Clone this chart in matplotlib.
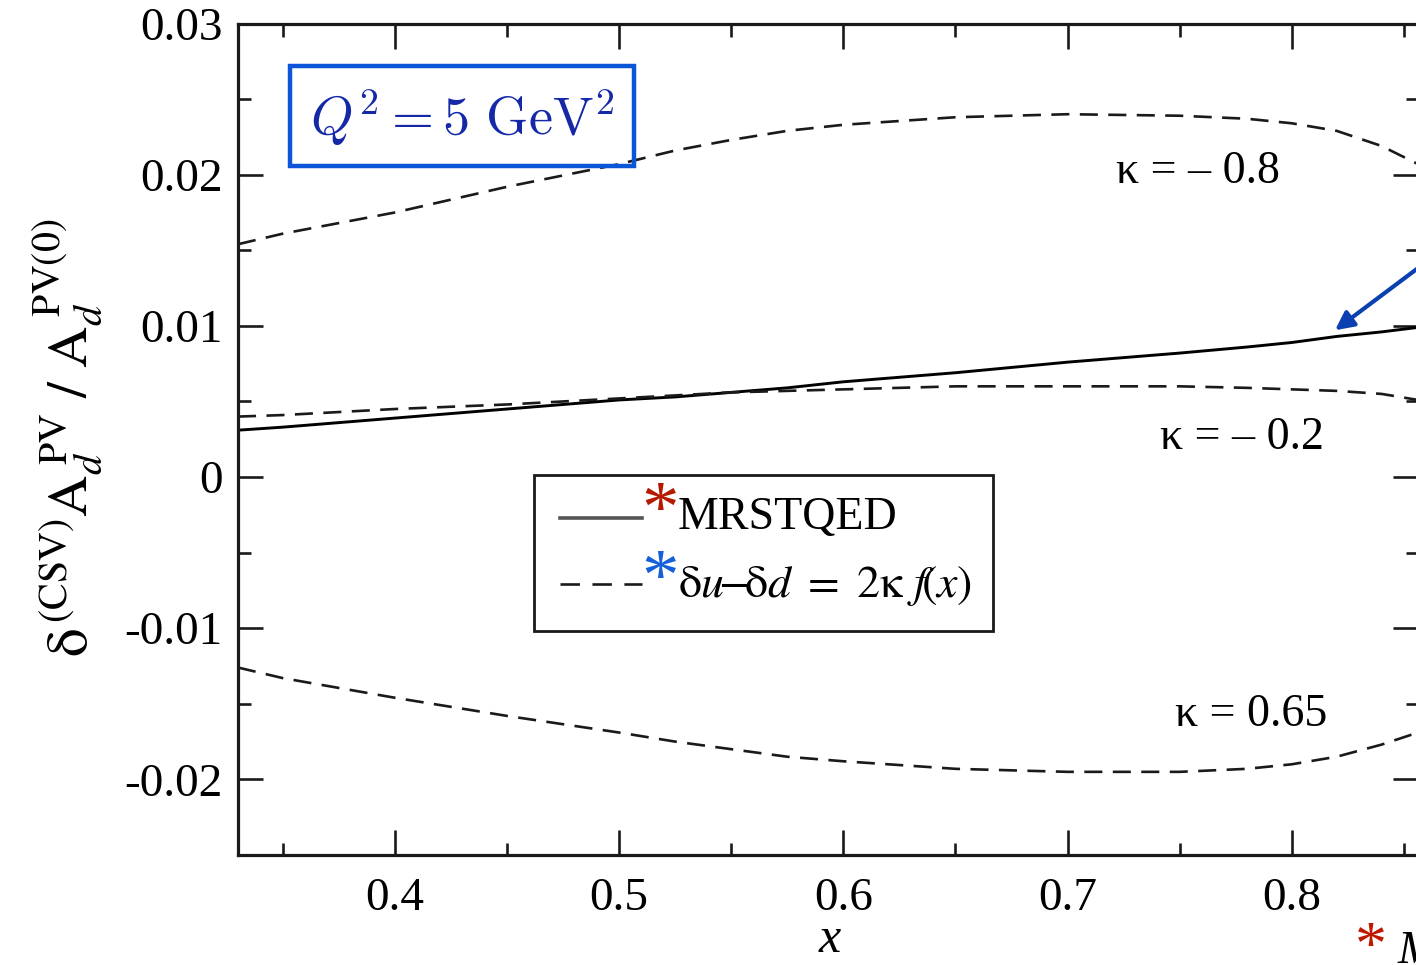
import matplotlib
matplotlib.use("Agg")
import matplotlib.pyplot as plt
from matplotlib.patches import Rectangle
from matplotlib.lines import Line2D

plt.rcParams['font.family'] = ['Liberation Serif', 'DejaVu Serif']
plt.rcParams['mathtext.fontset'] = 'stix'
plt.rcParams['axes.unicode_minus'] = False
plt.rcParams['lines.scale_dashes'] = False

# ---- data ----
x_vals = [0.33, 0.35, 0.40, 0.45, 0.50, 0.525, 0.55, 0.575, 0.60, 0.65, 0.70, 0.75, 0.78, 0.80, 0.82, 0.84, 0.8563]
mrstqed = [0.0031, 0.0033, 0.0039, 0.0045, 0.0051, 0.0053, 0.0056, 0.0059, 0.0063, 0.0069, 0.0076, 0.0082, 0.0086, 0.0089, 0.0093, 0.0096, 0.0099]
kappa_m08 = [0.0154, 0.0161, 0.0175, 0.0192, 0.0207, 0.0216, 0.0223, 0.0229, 0.0233, 0.0238, 0.0240, 0.0239, 0.0237, 0.0234, 0.0229, 0.0219, 0.0207]
kappa_m02 = [0.0040, 0.0041, 0.0045, 0.0048, 0.0052, 0.0054, 0.0056, 0.0057, 0.0058, 0.0060, 0.0060, 0.0060, 0.0059, 0.0058, 0.0057, 0.0055, 0.0051]
kappa_p065 = [-0.0126, -0.0133, -0.0146, -0.0158, -0.0169, -0.0175, -0.0180, -0.0185, -0.0188, -0.0193, -0.0195, -0.0195, -0.0193, -0.0190, -0.0185, -0.0177, -0.0169]

x_major = [0.4, 0.5, 0.6, 0.7, 0.8]
x_major_labels = ['0.4', '0.5', '0.6', '0.7', '0.8']
x_minor = [0.35, 0.45, 0.55, 0.65, 0.75, 0.85]
y_major = [0.03, 0.02, 0.01, 0.0, -0.01, -0.02]
y_major_labels = ['0.03', '0.02', '0.01', '0', '-0.01', '-0.02']
y_minor = [0.025, 0.015, 0.005, -0.005, -0.015, -0.025]

kappa_labels = ['\u03ba = \u2013 0.8', '\u03ba = \u2013 0.2', '\u03ba = 0.65']

W, H = 1416, 965
def fx(px):
    return px / W
def fy(py):
    return 1 - py / H

fig = plt.figure(figsize=(W / 100, H / 100), dpi=100)
ax = fig.add_axes([fx(238), fy(855), (1418 - 238) / W, (855 - 23.5) / H])
ax.set_xlim(0.33, 0.8563)
ax.set_ylim(-0.025, 0.03)

dash = (13, 7.5)
ax.plot(x_vals, mrstqed, color='black', lw=2.1, solid_capstyle='butt')
for series in (kappa_m08, kappa_m02, kappa_p065):
    ax.plot(x_vals, series, color='#1a1a1a', lw=1.9, dashes=dash)

ax.set_xticks(x_major)
ax.set_xticklabels(x_major_labels)
ax.set_xticks(x_minor, minor=True)
ax.set_yticks(y_major)
ax.set_yticklabels(y_major_labels)
ax.set_yticks(y_minor, minor=True)
ax.tick_params(which='both', direction='in', top=True, right=True, width=1.9, color='#1a1a1a')
ax.tick_params(which='major', length=18, labelsize=34, pad=11)
ax.tick_params(axis='x', which='major', pad=16)
ax.tick_params(which='minor', length=9)
for sp in ax.spines.values():
    sp.set_linewidth(2.3)
    sp.set_color('#1a1a1a')

# axis labels
fig.text(fx(830), fy(940), 'x', fontsize=36, style='italic', ha='center', va='center')
fig.text(fx(68), fy(438),
         r'$\mathrm{\delta}^{\,\mathrm{(CSV)}}\mathrm{A}_{d}^{\ \mathrm{PV}}\ /\ \mathrm{A}_{d}^{\ \mathrm{PV(0)}}$',
         fontsize=41, rotation=90, ha='center', va='center')

# kappa labels
fig.text(fx(1116), fy(172), kappa_labels[0], fontsize=33, ha='left', va='center')
fig.text(fx(1160), fy(438), kappa_labels[1], fontsize=33, ha='left', va='center')
fig.text(fx(1175), fy(715), kappa_labels[2], fontsize=33, ha='left', va='center')

# Q^2 box
fig.patches.append(Rectangle((fx(290), fy(166)), (634 - 290) / W, (166 - 66) / H,
                             transform=fig.transFigure, fill=False,
                             edgecolor='#0a55d8', lw=3.2, zorder=5))
fig.text(fx(462), fy(118), r'$Q^2 = 5\ \mathrm{GeV}^2$', fontsize=39,
         color='#1428a8', ha='center', va='center', math_fontfamily='cm')

# legend (manual)
fig.patches.append(Rectangle((fx(534), fy(631)), (993 - 534) / W, (631 - 475) / H,
                             transform=fig.transFigure, fill=True, facecolor='white',
                             edgecolor='#1a1a1a', lw=2.0, zorder=3))
fig.lines.append(Line2D([fx(560), fx(642)], [fy(518), fy(518)], transform=fig.transFigure,
                        color='#555555', lw=2.6, zorder=4))
fig.lines.append(Line2D([fx(560), fx(642)], [fy(584), fy(584)], transform=fig.transFigure,
                        color='#1a1a1a', lw=1.9, dashes=(14, 9), zorder=4))
fig.text(fx(660), fy(514), '*', fontsize=54, color='#b51a00', ha='center', va='center', zorder=6)
fig.text(fx(660), fy(582), '*', fontsize=54, color='#1560d8', ha='center', va='center', zorder=6)
fig.text(fx(678), fy(529), 'MRSTQED', fontsize=33, ha='left', va='baseline', zorder=6)
fig.text(fx(678), fy(597), r'$\mathrm{\delta}u\!\mathrm{-}\!\mathrm{\delta}d\ \mathrm{=}\ \mathrm{2\kappa}\ f\!\mathrm{(}x\mathrm{)}$',
         fontsize=33, ha='left', va='baseline', zorder=6)

# arrow
ax.annotate('', xy=(0.8183, 0.0096), xytext=(0.884, 0.0169),
            arrowprops=dict(arrowstyle='-|>,head_length=1.1,head_width=0.55', color='#0a40b0', lw=3),
            annotation_clip=False)

# bottom-right footnote (cut off at the right edge, as in the reference)
fig.text(fx(1371), fy(950), '*', fontsize=46, color='#c01800', ha='center', va='center')
fig.text(fx(1398), fy(963), 'M', fontsize=34, style='italic', ha='left', va='baseline')

fig.savefig('out.png', dpi=100)
